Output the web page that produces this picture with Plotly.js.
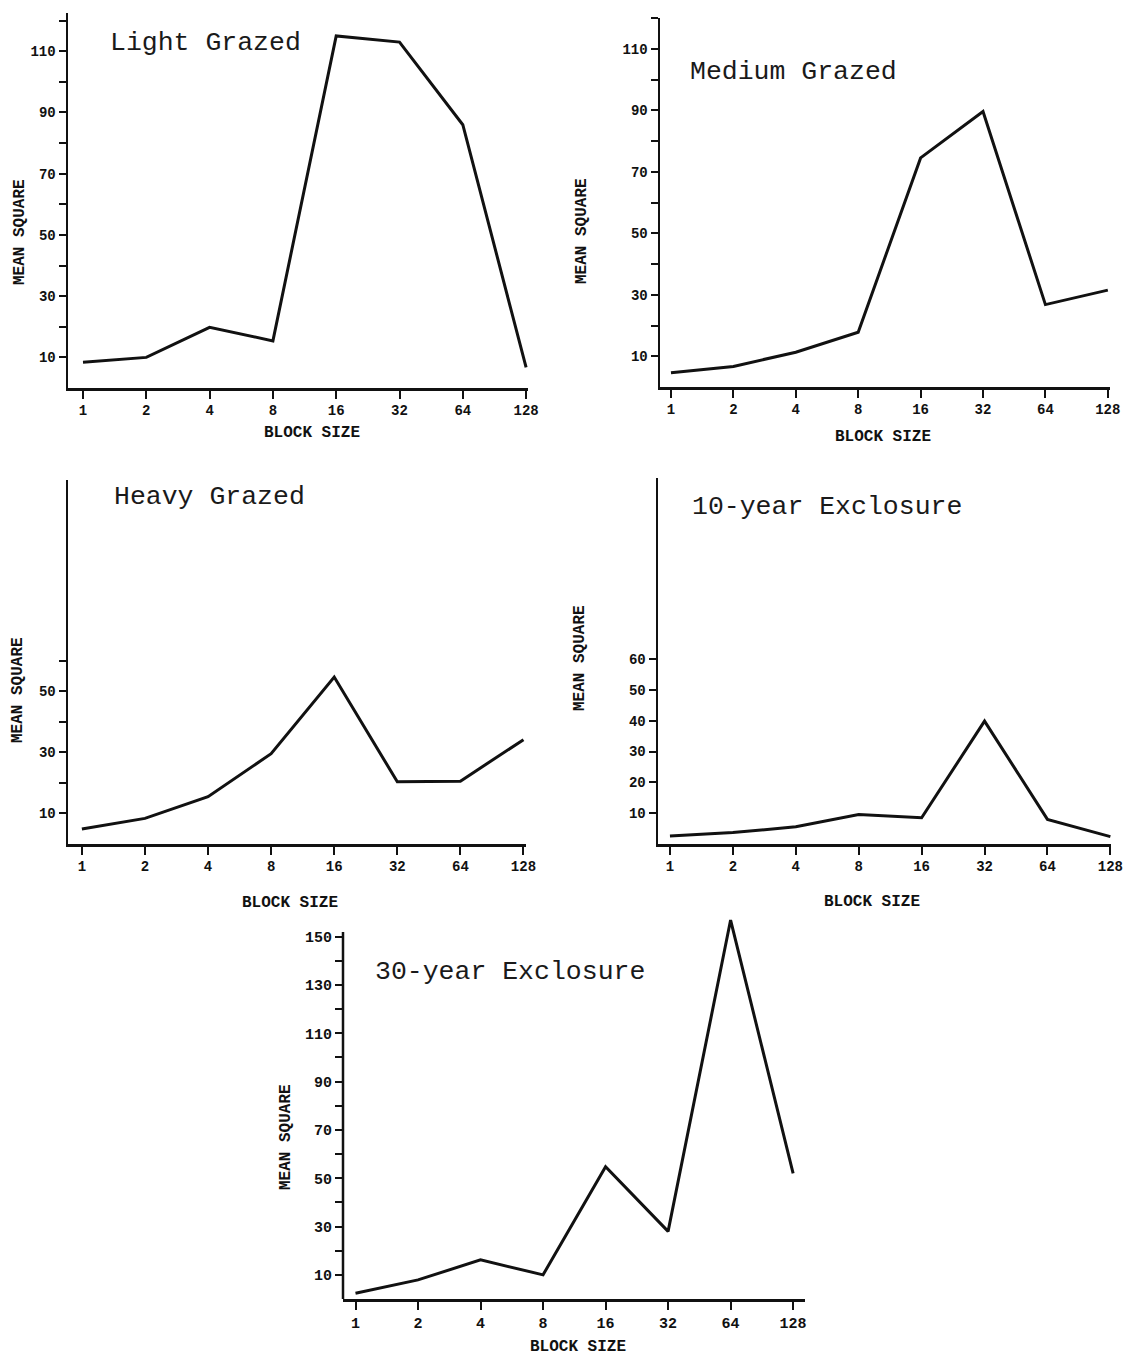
<!DOCTYPE html>
<html>
<head>
<meta charset="utf-8">
<script src="https://cdn.plot.ly/plotly-3.0.1.min.js"></script>
<style>html,body{margin:0;padding:0;background:#fff}</style>
</head>
<body>
<div id="chart" style="width:1126px;height:1360px"></div>
<script>
// ---- data ----
const blockSizes = [1, 2, 4, 8, 16, 32, 64, 128];
const blockLabels = ['1', '2', '4', '8', '16', '32', '64', '128'];
const lightGrazed  = [8.4, 10, 19.8, 15.4, 115, 113, 86, 6.7];
const mediumGrazed = [4.6, 6.7, 11.3, 17.8, 74.5, 89.6, 26.8, 31.5];
const heavyGrazed  = [4.9, 8.4, 15.5, 29.6, 54.7, 20.4, 20.6, 34.2];
const exclosure10  = [2.6, 3.7, 5.6, 9.6, 8.5, 39.9, 8.0, 2.4];
const exclosure30  = [2.4, 7.9, 16.2, 10, 54.8, 28, 156.9, 52];
const panelNames = ['Light Grazed', 'Medium Grazed', 'Heavy Grazed', '10-year Exclosure', '30-year Exclosure'];
const yTicksA = [10, 20, 30, 40, 50, 60, 70, 80, 90, 100, 110, 120];
const yLabelsA = ['10', '', '30', '', '50', '', '70', '', '90', '', '110', ''];
const yTicksHeavy = [10, 20, 30, 40, 50, 60];
const yLabelsHeavy = ['10', '', '30', '', '50', ''];
const yTicks10 = [10, 20, 30, 40, 50, 60];
const yLabels10 = ['10', '20', '30', '40', '50', '60'];
const yTicks30 = [10, 20, 30, 40, 50, 60, 70, 80, 90, 100, 110, 120, 130, 140, 150];
const yLabels30 = ['10', '', '30', '', '50', '', '70', '', '90', '', '110', '', '130', '', '150'];
const xTitle = 'BLOCK SIZE';
const yTitle = 'MEAN SQUARE';

// ---- layout geometry (page pixels) ----
const W = 1126, H = 1360;
const L2 = Math.log10(2);
// [axisLeftPx, axisRightPx, bottomPx, topPx, log2Left, log2Right, yMax, tickFontSize]
const geo = [
  [68, 528, 388, 13, -0.237, 7.03, 122.5, 14],
  [660, 1110, 387, 18, -0.176, 7.035, 120, 14],
  [68, 526, 844, 480, -0.22, 7.04, 119.3, 14],
  [658, 1111, 844, 478, -0.19, 7.01, 118.8, 14],
  [343, 805, 1299, 915, -0.2, 7.19, 159, 15]
];
const series = [lightGrazed, mediumGrazed, heavyGrazed, exclosure10, exclosure30];
const yTickSets = [[yTicksA, yLabelsA], [yTicksA, yLabelsA], [yTicksHeavy, yLabelsHeavy], [yTicks10, yLabels10], [yTicks30, yLabels30]];

const data = [];
const layout = {
  width: W, height: H,
  margin: {l: 0, r: 0, t: 0, b: 0},
  paper_bgcolor: '#fff', plot_bgcolor: 'rgba(0,0,0,0)',
  showlegend: false,
  annotations: [],
  shapes: []
};

series.forEach((ys, i) => {
  const n = i + 1;
  const sfx = n === 1 ? '' : String(n);
  const g = geo[i];
  const tickFont = {family: 'Liberation Mono, monospace', size: g[7], color: '#111', weight: 'bold'};
  data.push({
    type: 'scatter', mode: 'lines',
    x: blockSizes, y: ys,
    xaxis: 'x' + sfx, yaxis: 'y' + sfx,
    line: {color: '#111', width: 3},
    hoverinfo: 'skip'
  });
  layout['xaxis' + sfx] = {
    type: 'log',
    domain: [g[0] / W, g[1] / W],
    range: [g[4] * L2, g[5] * L2],
    anchor: 'y' + sfx,
    tickmode: 'array', tickvals: blockSizes, ticktext: blockLabels,
    ticks: 'outside', ticklen: 8, tickwidth: 2, tickcolor: '#111',
    showline: true, linewidth: 2.5, linecolor: '#111',
    showgrid: false, zeroline: false,
    tickfont: tickFont, fixedrange: true
  };
  layout['yaxis' + sfx] = {
    domain: [1 - g[2] / H, 1 - g[3] / H],
    range: [0, g[6]],
    anchor: 'x' + sfx,
    tickmode: 'array', tickvals: yTickSets[i][0], ticktext: yTickSets[i][1],
    ticks: 'outside', ticklen: 7, tickwidth: 2, tickcolor: '#111',
    showline: n !== 5, linewidth: 2.5, linecolor: '#111',
    showgrid: false, zeroline: false,
    tickfont: tickFont, fixedrange: true
  };
});

// y-axis line of the 30-year panel stops at 152 while the trace goes above it
layout.shapes.push({
  type: 'line', xref: 'x5 domain', yref: 'y5',
  x0: 0, x1: 0, y0: 0, y1: 152,
  line: {color: '#111', width: 2.5}
});

// panel labels
const labelPos = [[108, 43], [688, 72], [112, 497], [690, 507], [373, 972]];
panelNames.forEach((t, i) => {
  layout.annotations.push({
    text: t, xref: 'paper', yref: 'paper',
    x: labelPos[i][0] / W, y: 1 - labelPos[i][1] / H,
    xanchor: 'left', yanchor: 'middle', showarrow: false,
    font: {family: 'Liberation Mono, monospace', size: 26.5, color: '#1a1a1a'}
  });
});

// axis titles
const titleFont = {family: 'Liberation Mono, monospace', size: 16, color: '#111', weight: 'bold'};
const xTitlePos = [[312, 433], [883, 437], [290, 903], [872, 902], [578, 1347]];
const yTitlePos = [[20, 232], [582, 231], [18, 690], [580, 658], [286, 1137]];
for (let i = 0; i < 5; i++) {
  layout.annotations.push({
    text: xTitle, xref: 'paper', yref: 'paper',
    x: xTitlePos[i][0] / W, y: 1 - xTitlePos[i][1] / H,
    xanchor: 'center', yanchor: 'middle', showarrow: false, font: titleFont
  });
  layout.annotations.push({
    text: yTitle, xref: 'paper', yref: 'paper',
    x: yTitlePos[i][0] / W, y: 1 - yTitlePos[i][1] / H,
    xanchor: 'center', yanchor: 'middle', showarrow: false, textangle: -90, font: titleFont
  });
}

Plotly.newPlot('chart', data, layout, {staticPlot: true, displayModeBar: false});
</script>
</body>
</html>
